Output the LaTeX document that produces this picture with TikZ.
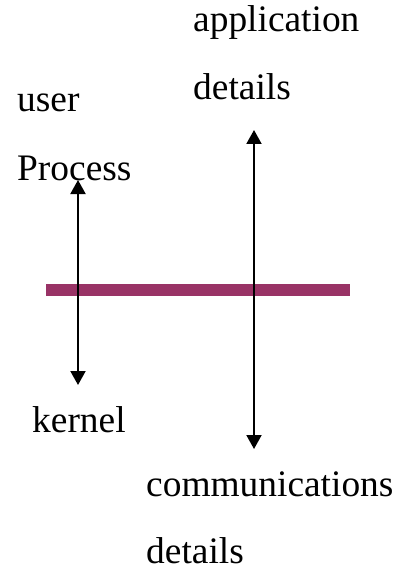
\documentclass[tikz,border=0pt]{standalone}
\usepackage{fontspec}
\setmainfont{Liberation Serif}
\usetikzlibrary{arrows.meta}
\definecolor{barcol}{HTML}{993366}
\tikzset{
  lbl/.style={anchor=base west, inner sep=0pt, font=\fontsize{37.4bp}{45bp}\selectfont},
  arr/.style={line width=2bp, {Triangle[length=14bp,width=15bp]}-{Triangle[length=14bp,width=15bp]}},
  barline/.style={draw=barcol, line width=12bp}
}
\begin{document}
\begin{tikzpicture}[x=1bp,y=-1bp]
\useasboundingbox (0,0) rectangle (414,570);
\node[lbl] (app) at (193,32) {application};
\node[lbl] (det1) at (193,100) {details};
\node[lbl] (user) at (17,112) {user};
\node[lbl] (proc) at (17,180) {Process};
\node[lbl] (kern) at (32,432) {kernel};
\node[lbl] (comm) at (146,496) {communications};
\node[lbl] (det2) at (146,563) {details};
\coordinate (bl) at (46,290);
\coordinate (br) at (350,290);
\draw[barline] (bl) -- (br);
\coordinate (la) at (78,180);
\coordinate (lb) at (78,385);
\coordinate (ra) at (254,130);
\coordinate (rb) at (254,449);
\draw[arr] (la) -- (lb);
\draw[arr] (ra) -- (rb);
\end{tikzpicture}
\end{document}
